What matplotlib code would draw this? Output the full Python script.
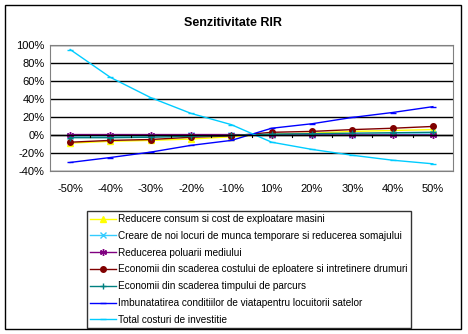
import matplotlib
matplotlib.use('Agg')
import matplotlib.pyplot as plt
from matplotlib.patches import Rectangle
from matplotlib.ticker import FuncFormatter

plt.rcParams['font.family'] = ['Liberation Sans', 'DejaVu Sans']

categories = ['-50%', '-40%', '-30%', '-20%', '-10%', '10%', '20%', '30%', '40%', '50%']

reducere_consum = [-9, -7, -6, -4.5, -2, 1, 2, 4, 5, 6]
creare_locuri = [-1, -1, -1, -0.5, -0.5, 0.5, 0.5, 0.5, 1, 1]
reducere_poluare = [0.5, 0.5, 0.5, 0.5, 0.5, 0, 0, 0, 0, 0]
economii_cost = [-8, -6, -5, -2.5, -1, 3, 4, 6, 7.5, 9.5]
economii_timp = [-3, -3, -2.5, -1.5, -0.5, 1, 1.5, 2, 2.5, 3]
imbunatatire = [-30.5, -25, -19, -11.5, -6, 7.5, 12.5, 19.5, 25, 31.5]
total_costuri = [95, 64, 41.5, 24, 11.5, -8, -16, -22.5, -28, -32]

series = [
    ('Reducere consum si cost de exploatare masini', reducere_consum, '#FFFF00', '^', 4),
    ('Creare de noi locuri de munca temporare si reducerea somajului', creare_locuri, '#33CCFF', 'x', 4),
    ('Reducerea poluarii mediului', reducere_poluare, '#800080', (6, 2, 0), 5),
    ('Economii din scaderea costului de eploatere si intretinere drumuri', economii_cost, '#800000', 'o', 4),
    ('Economii din scaderea timpului de parcurs', economii_timp, '#008080', '+', 5),
    ('Imbunatatirea conditiilor de viatapentru locuitorii satelor', imbunatatire, '#0000FF', '_', 4),
    ('Total costuri de investitie', total_costuri, '#00CCFF', '_', 4),
]

fig = plt.figure(figsize=(4.68, 3.34), dpi=100)
W, H = 468, 334

# outer chart border
fig.patches.append(Rectangle((5 / W, 1 - 329 / H), 456 / W, 324 / H, transform=fig.transFigure,
                             fill=False, edgecolor='black', linewidth=1))

ax = fig.add_axes([50 / W, 1 - 171 / H, 403 / W, 126 / H])
x = range(len(categories))
for label, vals, color, marker, ms in series:
    ax.plot(x, vals, color=color, linewidth=1, marker=marker, markersize=ms,
            markeredgewidth=1.0, label=label)

ax.set_xlim(-0.5, len(categories) - 0.5)
ax.set_ylim(-40, 100)
ax.set_yticks(range(-40, 101, 20))
ax.yaxis.set_major_formatter(FuncFormatter(lambda v, p: f'{v:.0f}%'))
ax.set_xticks(list(x))
ax.set_xticklabels(categories)
ax.tick_params(axis='both', labelsize=8, length=0, pad=4)
ax.tick_params(axis='x', pad=9)
ax.grid(True, axis='y', color='black', linewidth=1)
ax.axhline(0, color='black', linewidth=1)
# small category ticks on the zero line
for b in [i + 0.5 for i in range(len(categories) - 1)]:
    ax.plot([b, b], [0, -1.8], color='black', linewidth=0.8)
for s in ax.spines.values():
    s.set_color('#808080')
ax.set_axisbelow(True)

fig.text(233 / W, 1 - 23 / H, 'Senzitivitate RIR', ha='center', va='center',
         fontsize=9, fontweight='bold')

leg = fig.legend(loc='upper left', bbox_to_anchor=(87 / W, 1 - 211 / H), fontsize=7.2,
                 frameon=True, fancybox=False, borderpad=0.3, labelspacing=0.68,
                 handlelength=2.6, handletextpad=0.2, borderaxespad=0)
leg.get_frame().set_edgecolor('black')
leg.get_frame().set_linewidth(1)

fig.savefig('out.png', dpi=100)
